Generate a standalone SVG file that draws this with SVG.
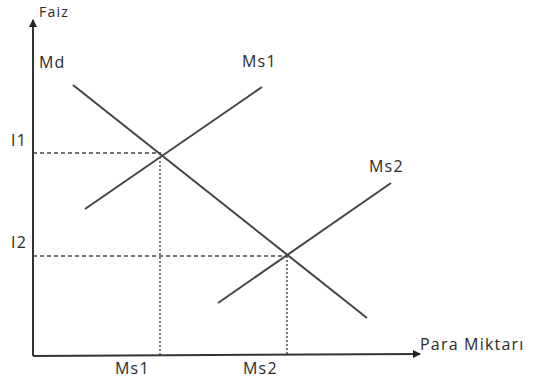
<svg xmlns="http://www.w3.org/2000/svg" width="534" height="382" viewBox="0 0 534 382">
<style>
text{font-family:"Open Sans","Liberation Sans",sans-serif;font-size:16px;letter-spacing:1.2px;fill:#2a2a2a}
.ax{stroke:#333;stroke-width:2;fill:none}
.cv{stroke:#444;stroke-width:2;fill:none}
.dash{stroke:#444;stroke-width:1.3;stroke-dasharray:4,3;fill:none}
.dot{stroke:#333;stroke-width:1.3;stroke-dasharray:2,2;fill:none}
</style>
<defs>
<marker id="ah" markerWidth="8" markerHeight="8" refX="7" refY="4" orient="auto" markerUnits="userSpaceOnUse">
<path d="M0,0 L8,4 L0,8 Z" fill="#222"/>
</marker>
</defs>
<rect width="534" height="382" fill="#fff"/>
<g id="axes">
<line class="ax" x1="33" y1="356" x2="33" y2="20" marker-end="url(#ah)"/>
<line class="ax" x1="33" y1="356" x2="420" y2="354" marker-end="url(#ah)"/>
<text x="39" y="17" style="font-size:14px">Faiz</text>
<text x="420" y="350">Para Miktarı</text>
</g>
<g id="guides">
<line class="dash" x1="33" y1="153" x2="161" y2="153"/>
<line class="dash" x1="33" y1="256" x2="287" y2="256"/>
<line class="dot" x1="160" y1="153" x2="160" y2="355"/>
<line class="dot" x1="287" y1="256" x2="287" y2="355"/>
</g>
<g id="md">
<line class="cv" x1="73" y1="85" x2="367" y2="318"/>
<text x="39" y="68">Md</text>
</g>
<g id="ms1">
<line class="cv" x1="85" y1="209" x2="262" y2="87"/>
<text x="242" y="67">Ms1</text>
</g>
<g id="ms2">
<line class="cv" x1="218" y1="303" x2="391" y2="183"/>
<text x="369" y="172">Ms2</text>
</g>
<g id="labels">
<text x="11" y="146">I1</text>
<text x="11" y="248">I2</text>
<text x="115" y="374">Ms1</text>
<text x="243" y="374">Ms2</text>
</g>
</svg>
